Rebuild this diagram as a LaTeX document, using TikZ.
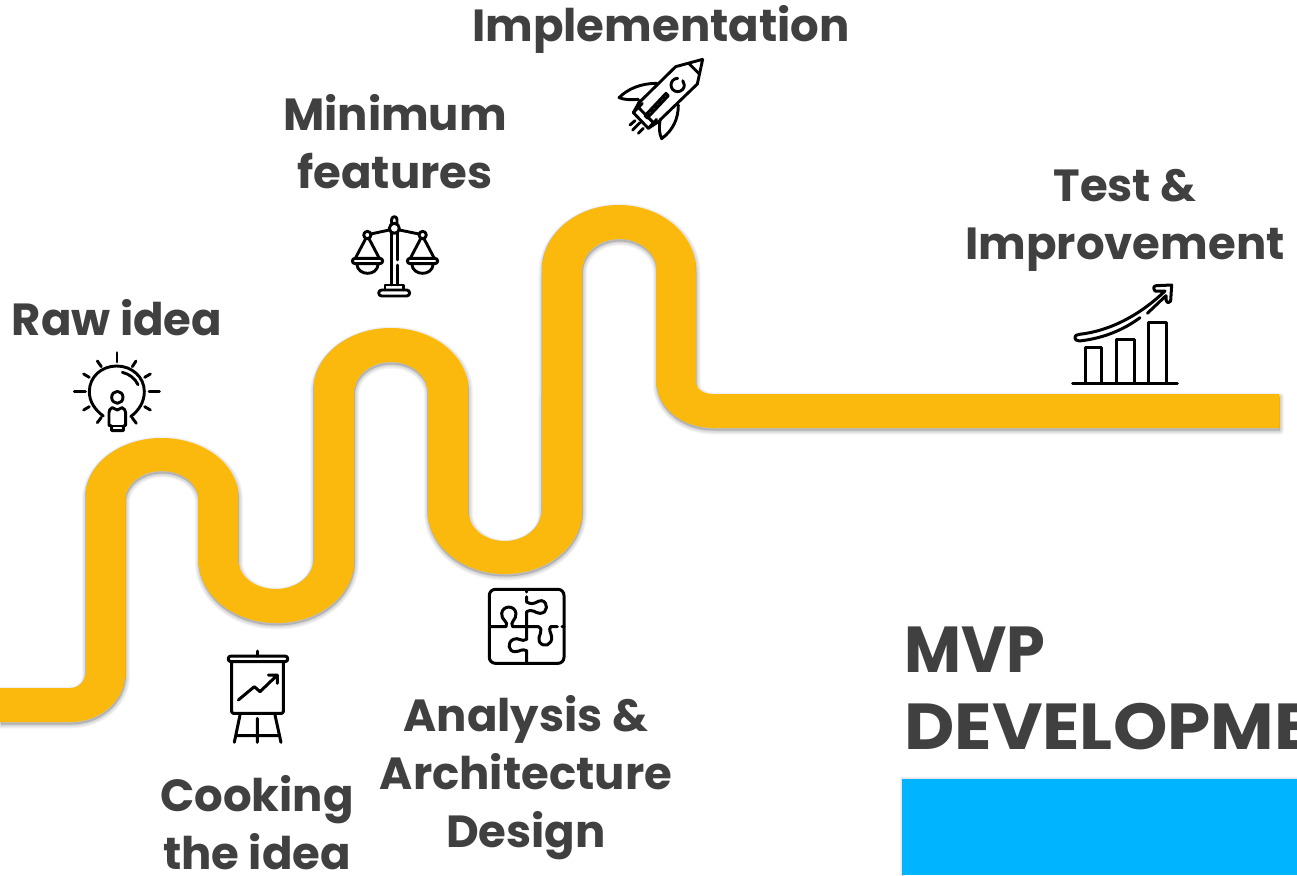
\documentclass[tikz,border=0pt]{standalone}
\usepackage{fontspec}
\setmainfont{Poppins}[BoldFont=* Bold]
\definecolor{road}{HTML}{FAB90C}
\definecolor{ink}{HTML}{404040}
\definecolor{band}{HTML}{00B4FF}
\tikzset{
  lab/.style={text=ink,font=\bfseries\fontsize{45}{58}\selectfont,align=center,inner sep=0pt},
  big/.style={text=ink,font=\bfseries\fontsize{65}{77}\selectfont,anchor=west,inner sep=0pt,transform shape},
  ico/.style={line width=3pt,line cap=round,line join=round,black},
  fine/.style={line width=2.9pt,line cap=round,line join=round,black}
}
\newcommand{\roadpath}{
 (0,688) -- (70,688) arc[start angle=90,end angle=0,x radius=15,y radius=15] -- (85,497)
 arc[start angle=180,end angle=360,x radius=76.5,y radius=59] -- (238,560)
 arc[start angle=180,end angle=0,x radius=37.5,y radius=29] -- (313,390)
 arc[start angle=180,end angle=360,x radius=77.5,y radius=62] -- (468,511)
 arc[start angle=180,end angle=0,x radius=36.5,y radius=30] -- (541.5,270)
 arc[start angle=180,end angle=360,x radius=77,y radius=65] -- (695.5,382)
 arc[start angle=180,end angle=90,x radius=17,y radius=12] -- (1279,394) -- (1279,428) -- (713,428)
 arc[start angle=90,end angle=180,x radius=57,y radius=46] -- (656,270)
 arc[start angle=0,end angle=-180,x radius=37,y radius=31] -- (582,510)
 arc[start angle=0,end angle=180,x radius=77.5,y radius=64] -- (427,392)
 arc[start angle=0,end angle=-180,x radius=36.5,y radius=30] -- (354,560)
 arc[start angle=0,end angle=180,x radius=78,y radius=63] -- (198,500)
 arc[start angle=0,end angle=-180,x radius=36.5,y radius=29] -- (125,673)
 arc[start angle=0,end angle=90,x radius=55,y radius=49] -- (0,722) -- cycle}
\begin{document}
\begin{tikzpicture}[x=1pt,y=-1pt]
\useasboundingbox (0,0) rectangle (1297,875);
\clip (0,0) rectangle (1297,875);
\fill[white] (0,0) rectangle (1297,875);
% road with soft shadow
\foreach \w in {8,6,4,2}{\draw[black,fill=black,opacity=.045,line width=\w pt,line join=round,shift={(1,2.5)}] \roadpath;}
\fill[road] \roadpath;
% band
\foreach \w in {5,3,1}{\draw[black,opacity=.05,line width=\w pt] (902,779) rectangle (1310,890);}
\fill[band] (902,779) rectangle (1297,875);
% labels
\node[lab] (raw) at (117,318) {Raw idea};
\node[lab] (mini) at (395,142) {Minimum\\features};
\node[lab] (impl) at (661,29) {Implementation};
\node[lab] (test) at (1125,220) {Test \&\\Improvement};
\node[lab] (cook) at (257,823) {Cooking\\the idea};
\node[lab] (ana) at (526,778) {Analysis \&\\Architecture\\Design};
\node[big,xscale=.955] (mvp) at (904,650) {MVP};
\node[big,xscale=1.065] (dev) at (904,727) {DEVELOPMENT};
% bulb
\begin{scope}[shift={(60,340)},x=.3333pt,y=-.3333pt,fine]
\draw (130,228) .. controls (105,210) and (88,185) .. (88,155) .. controls (88,110) and (125,78) .. (170,78) .. controls (215,78) and (253,110) .. (253,155) .. controls (253,185) and (238,210) .. (212,230);
\draw (187,97) .. controls (208,102) and (225,115) .. (234,134);
\draw (172,172) ellipse[x radius=17,y radius=18];
\draw (157,203) .. controls (150,206) and (147,210) .. (147,218) -- (147,256) -- (155,258) -- (155,272) -- (190,272) -- (190,258) -- (197,256) -- (197,218) .. controls (197,210) and (192,206) .. (186,203) -- (172,210) -- cycle;
\draw (155,258) -- (190,258);
\foreach \a/\b/\c/\d in {171/38/171/66, 112/63/124/80, 228/63/217/80, 71/102/88/112, 271/102/254/112, 43/155/76/155, 298/155/267/155, 71/210/88/200, 271/210/254/200, 112/248/124/232, 229/250/217/234}{\draw (\a,\b) -- (\c,\d);}
\end{scope}
% scales
\begin{scope}[shift={(340,210)},x=.3333pt,y=-.3333pt,fine]
\draw (163,55) circle[radius=15];
\draw (155,40) -- (155,28) arc[start angle=180,end angle=360,radius=8] -- (171,40);
\draw (155,70) -- (155,225) (172,70) -- (172,150) (172,165) -- (172,225);
\draw (148,60) -- (92,72) (178,60) -- (237,72);
\draw (82,75) circle[radius=11] (248,75) circle[radius=11];
\foreach \s in {0,165}{
\begin{scope}[xshift=\s*.3333pt]
\draw (77,86) -- (46,145) (87,86) -- (118,145);
\draw (45,145) -- (120,145) arc[start angle=270,end angle=450,x radius=8,y radius=8] -- (45,161) arc[start angle=90,end angle=270,x radius=8,y radius=8] -- cycle;
\draw (50,161) .. controls (52,182) and (68,190) .. (83,190) .. controls (98,190) and (113,182) .. (115,161);
\end{scope}}
\draw (135,240) -- (135,225) -- (190,225) -- (190,240);
\draw (125,240) -- (200,240) arc[start angle=270,end angle=450,radius=9] -- (125,258) arc[start angle=90,end angle=270,radius=9] -- cycle;
\end{scope}
% rocket
\begin{scope}[shift={(610,50)},x=.3333pt,y=-.3333pt,fine]
\draw (278,28) -- (197,50) -- (85,160) (278,28) -- (262,102) -- (150,210);
\draw (236,40) -- (266,70);
\draw (203,85) arc[start angle=-90,end angle=-400,radius=20] ;
\draw (105,197) -- (168,130) -- (175,137) -- (112,204) -- cycle;
\draw (90,152) -- (70,188) -- (115,235) -- (150,212);
\draw (70,188) -- (97,160) (115,235) -- (140,208);
\draw (85,172) -- (130,218);
\draw (140,100) .. controls (95,100) and (55,115) .. (27,143) .. controls (45,150) and (65,150) .. (85,148);
\draw (205,165) .. controls (205,205) and (190,240) .. (155,266) .. controls (147,250) and (147,230) .. (150,212);
\draw (60,225) -- (75,212) (68,240) -- (90,218) (85,250) -- (100,235);
\end{scope}
% chart
\begin{scope}[shift={(1060,275)},x=.3333pt,y=-.3333pt,ico]
\draw (38,325) -- (352,325);
\draw (75,325) -- (75,218) -- (125,218) -- (125,325);
\draw (170,325) -- (170,195) -- (222,195) -- (222,325);
\draw (265,325) -- (265,143) -- (318,143) -- (318,325);
\draw (240,128) .. controls (190,165) and (130,190) .. (58,198) .. controls (40,198) and (40,178) .. (58,178) .. controls (150,168) and (240,120) .. (315,48) -- (285,48) .. controls (278,38) and (282,32) .. (290,32) -- (335,30) -- (332,78) .. controls (330,85) and (320,85) .. (318,75) -- (318,62) -- (262,115);
\end{scope}
% puzzle
\begin{scope}[shift={(480,580)},x=.3333pt,y=-.3333pt,ico]
\draw[rounded corners=6pt] (28,28) rectangle (252,250);
\draw (30,140) -- (78,140) .. controls (88,125) and (62,120) .. (65,100) .. controls (68,75) and (105,75) .. (108,100) .. controls (110,120) and (88,125) .. (98,140) -- (175,140) .. controls (195,150) and (170,170) .. (178,185) .. controls (190,205) and (218,195) .. (215,170) .. controls (212,155) and (205,150) .. (212,140) -- (232,140) (246,140) -- (252,140);
\draw (140,30) -- (140,36) (140,50) -- (140,66) .. controls (165,80) and (170,60) .. (185,62) .. controls (205,65) and (205,100) .. (180,100) .. controls (165,100) and (160,85) .. (140,95) -- (140,178) .. controls (125,188) and (115,170) .. (100,178) .. controls (80,188) and (85,215) .. (105,215) .. controls (120,215) and (125,205) .. (140,212) -- (140,250);
\end{scope}
% presentation
\begin{scope}[shift={(215,645)},x=.3333pt,y=-.3333pt,ico]
\draw (127,18) -- (127,33);
\draw (48,33) -- (210,33) arc[start angle=270,end angle=450,radius=8.5] -- (48,50) arc[start angle=90,end angle=270,radius=8.5] -- cycle;
\draw[rounded corners=1.5pt] (50,50) -- (50,205) -- (205,205) -- (205,50);
\draw (70,165) -- (118,125) -- (135,140) -- (185,92) (160,90) -- (187,90) -- (187,115);
\draw (75,210) -- (58,292) (180,210) -- (198,292) (127,220) -- (127,292) (68,272) -- (188,272);
\end{scope}
\end{tikzpicture}
\end{document}
